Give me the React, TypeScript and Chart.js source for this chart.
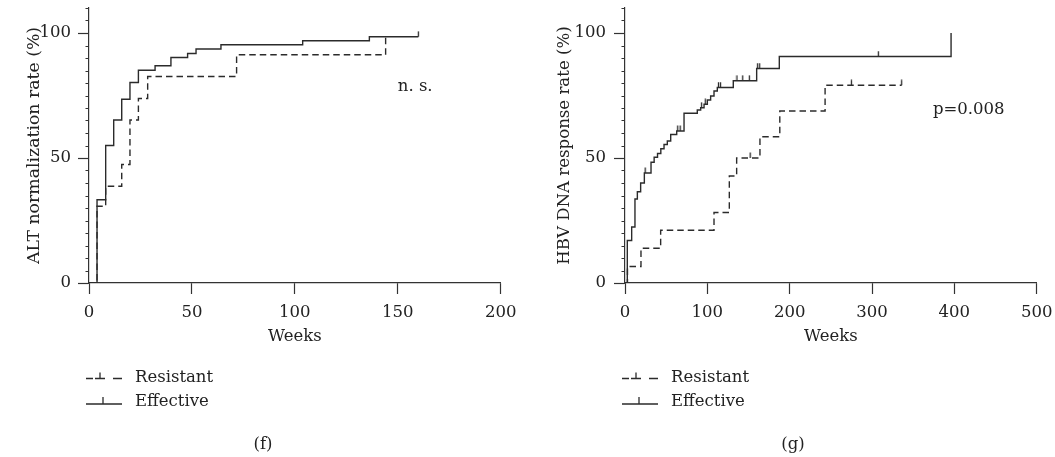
import React, { useEffect, useRef } from 'react';
import { Chart, registerables } from 'chart.js';

Chart.register(...registerables);

// ---------- Panel (f): ALT normalization ----------
const altEffWeeks = [0, 3.9, 8.1, 12.0, 15.9, 19.9, 24.0, 32.1, 39.8, 47.9, 52.0, 64.1, 103.8, 136.2, 160];
const altEffRate = [0, 33.3, 55.0, 65.2, 73.5, 80.2, 85.1, 86.9, 90.2, 91.8, 93.6, 95.3, 96.9, 98.5, 98.5];
const altEffCensored = [160];
const altResWeeks = [0, 3.9, 8.1, 15.9, 19.9, 24.0, 28.5, 71.7, 144.1];
const altResRate = [0, 30.7, 38.7, 47.4, 65.2, 73.8, 82.6, 91.3, 98.5];
const altResCensored: number[] = [];

// ---------- Panel (g): HBV DNA response ----------
const hbvEffWeeks = [0, 2.8, 8.1, 12.1, 15.0, 19.0, 23.5, 31.6, 35.4, 39.5, 43.5, 47.4, 51.4, 55.5, 62.8, 71.7, 87.8, 91.9, 96.0, 100.0, 104.0, 108.1, 112.1, 131.5, 159.9, 187.4, 396];
const hbvEffRate = [0, 17.0, 22.4, 33.6, 36.5, 40.0, 44.0, 48.3, 50.3, 51.8, 53.7, 55.4, 56.8, 59.4, 60.8, 67.9, 69.2, 70.1, 71.5, 73.2, 74.8, 76.8, 78.2, 80.9, 85.8, 90.6, 100];
const hbvEffCensored = [24.5, 64, 67, 93, 97.5, 113.5, 116, 136, 143, 151, 161, 163.5, 307.7];
const hbvResWeeks = [0, 3.0, 19.4, 43.3, 108.1, 126.7, 135.6, 163.9, 188.0, 243.0, 336];
const hbvResRate = [0, 6.6, 13.9, 21.1, 28.2, 42.8, 50.0, 58.5, 68.8, 79.1, 79.1];
const hbvResCensored = [152, 275, 336];

const legendLabels = ['Resistant', 'Effective'];
const yTickLabels = [0, 50, 100];

const LINE = '#2b2b2b';
const AXIS = '#333333';
const TEXT = '#222222';
const FONT_FAMILY = '"DejaVu Serif", "Liberation Serif", serif';
const FS = 16.5;

function levelAt(weeks: number[], rates: number[], t: number) {
  let v = 0;
  for (let i = 0; i < weeks.length; i++) if (weeks[i] <= t) v = rates[i];
  return v;
}

const kmExtras = {
  id: 'kmExtras',
  afterDraw(chart: any, _args: any, opts: any) {
    const { ctx, chartArea, scales } = chart;
    ctx.save();
    // minor y ticks (short, outward)
    ctx.strokeStyle = AXIS;
    ctx.lineWidth = 1.2;
    ctx.beginPath();
    scales.y.ticks.forEach((t: any) => {
      if (yTickLabels.includes(t.value)) return;
      const py = Math.round(scales.y.getPixelForValue(t.value)) + 0.5;
      ctx.moveTo(chartArea.left - 3.5, py);
      ctx.lineTo(chartArea.left, py);
    });
    ctx.stroke();

    ctx.fillStyle = TEXT;
    ctx.strokeStyle = LINE;
    ctx.font = `${FS}px ${FONT_FAMILY}`;
    ctx.textBaseline = 'middle';
    if (opts.note) {
      ctx.textAlign = 'left';
      ctx.fillText(opts.note.text, scales.x.getPixelForValue(opts.note.x), scales.y.getPixelForValue(opts.note.y));
    }
    const L = chartArea.left;
    const y1 = chartArea.bottom + 95.5;
    const y2 = chartArea.bottom + 121;
    const x0 = L - 3;
    ctx.lineWidth = 1.3;
    ctx.beginPath();
    [[0, 7], [9, 19], [27, 36]].forEach(([a, b]) => {
      ctx.moveTo(x0 + a, y1);
      ctx.lineTo(x0 + b, y1);
    });
    ctx.moveTo(x0 + 14, y1);
    ctx.lineTo(x0 + 14, y1 - 6);
    ctx.stroke();
    ctx.beginPath();
    ctx.moveTo(x0, y2);
    ctx.lineTo(x0 + 36, y2);
    ctx.moveTo(x0 + 17, y2);
    ctx.lineTo(x0 + 17, y2 - 7);
    ctx.stroke();
    ctx.textAlign = 'left';
    ctx.fillText(legendLabels[0], L + 46, y1 - 1);
    ctx.fillText(legendLabels[1], L + 46, y2 - 2);
    ctx.textAlign = 'center';
    ctx.fillText(opts.caption, opts.captionX, 445);
    ctx.restore();
  },
};

function makeTickCanvas() {
  const c = document.createElement('canvas');
  c.width = 3;
  c.height = 12;
  const g = c.getContext('2d')!;
  g.strokeStyle = LINE;
  g.lineWidth = 1.3;
  g.beginPath();
  g.moveTo(1.5, 0.5);
  g.lineTo(1.5, 6);
  g.stroke();
  return c;
}

function makeConfig(p: any, tick: HTMLCanvasElement): any {
  const font = { family: FONT_FAMILY, size: FS };
  const line = (w: number[], r: number[], dashed: boolean) => ({
    type: 'line',
    data: w.map((x, i) => ({ x, y: r[i] })),
    stepped: 'before',
    borderColor: LINE,
    borderWidth: 1.4,
    borderDash: dashed ? [6.5, 4] : [],
    pointRadius: 0,
    fill: false,
  });
  const cens = (w: number[], r: number[], c: number[]) => ({
    type: 'scatter',
    data: c.map((t) => ({ x: t, y: levelAt(w, r, t) })),
    pointStyle: tick,
    pointRadius: 3,
    showLine: false,
  });
  return {
    type: 'line',
    data: {
      datasets: [
        line(p.resW, p.resR, true),
        line(p.effW, p.effR, false),
        cens(p.resW, p.resR, p.resC),
        cens(p.effW, p.effR, p.effC),
      ],
    },
    options: {
      responsive: false,
      animation: false,
      devicePixelRatio: 1,
      layout: { padding: { left: 0, right: p.rightPad, top: 8, bottom: 104 } },
      plugins: {
        legend: { display: false },
        tooltip: { enabled: false },
        kmExtras: { note: p.note, caption: p.caption, captionX: p.captionX },
      },
      scales: {
        x: {
          type: 'linear',
          min: 0,
          max: p.xMax,
          ticks: { stepSize: p.xStep, padding: 8.5, font, color: TEXT, maxRotation: 0, autoSkip: false },
          grid: { display: true, drawOnChartArea: false, drawTicks: true, tickLength: 11, tickColor: AXIS, tickWidth: 1.2 },
          border: { display: true, color: AXIS, width: 1.2 },
          title: { display: true, text: 'Weeks', font, color: TEXT, padding: { top: 0, bottom: 6 } },
          afterFit: (s: any) => {
            s.height = 70;
            s.paddingLeft = 0;
            s.paddingRight = 0;
          },
        },
        y: {
          type: 'linear',
          min: 0,
          max: 110,
          ticks: {
            stepSize: 5,
            autoSkip: false,
            padding: p.yTickPad,
            font,
            color: TEXT,
            callback: (v: number) => (yTickLabels.includes(v) ? String(v) : ''),
          },
          grid: {
            display: true,
            drawOnChartArea: false,
            drawTicks: true,
            tickLength: 11,
            tickWidth: 1.2,
            tickColor: (ctx: any) => (ctx.tick && yTickLabels.includes(ctx.tick.value) ? AXIS : 'rgba(0,0,0,0)'),
          },
          border: { display: true, color: AXIS, width: 1.2 },
          title: { display: true, text: p.yTitle, font: { family: FONT_FAMILY, size: p.yTitleSize }, color: TEXT, padding: { top: p.yTitlePad, bottom: 0 } },
          afterFit: (s: any) => {
            s.width = p.yWidth;
            s.paddingTop = 0;
            s.paddingBottom = 0;
          },
        },
      },
    },
    plugins: [kmExtras],
  };
}

const panelF = {
  effW: altEffWeeks, effR: altEffRate, effC: altEffCensored,
  resW: altResWeeks, resR: altResRate, resC: altResCensored,
  xMax: 200, xStep: 50,
  yTitle: 'ALT normalization rate (%)', yTitleSize: 17.3,
  note: { text: 'n. s.', x: 150, y: 78.7 },
  caption: '(f)', captionX: 263,
  yWidth: 89, rightPad: 27.3, yTitlePad: 24, yTickPad: 7,
};

const panelG = {
  effW: hbvEffWeeks, effR: hbvEffRate, effC: hbvEffCensored,
  resW: hbvResWeeks, resR: hbvResRate, resC: hbvResCensored,
  xMax: 500, xStep: 100,
  yTitle: 'HBV DNA response rate (%)', yTitleSize: 16.6,
  note: { text: 'p=0.008', x: 374, y: 69.5 },
  caption: '(g)', captionX: 265,
  yWidth: 97, rightPad: 18.3, yTitlePad: 27, yTickPad: 8,
};

export default function App() {
  const leftRef = useRef<HTMLCanvasElement>(null);
  const rightRef = useRef<HTMLCanvasElement>(null);
  useEffect(() => {
    const tick = makeTickCanvas();
    const c1 = new Chart(leftRef.current!, makeConfig(panelF, tick));
    const c2 = new Chart(rightRef.current!, makeConfig(panelG, tick));
    return () => {
      c1.destroy();
      c2.destroy();
    };
  }, []);
  return (
    <div style={{ position: 'absolute', left: 0, top: 0, width: 1055, height: 457, background: '#fff' }}>
      <canvas ref={leftRef} width={528} height={457} style={{ position: 'absolute', left: 0, top: 0 }} />
      <canvas ref={rightRef} width={527} height={457} style={{ position: 'absolute', left: 528, top: 0 }} />
    </div>
  );
}
